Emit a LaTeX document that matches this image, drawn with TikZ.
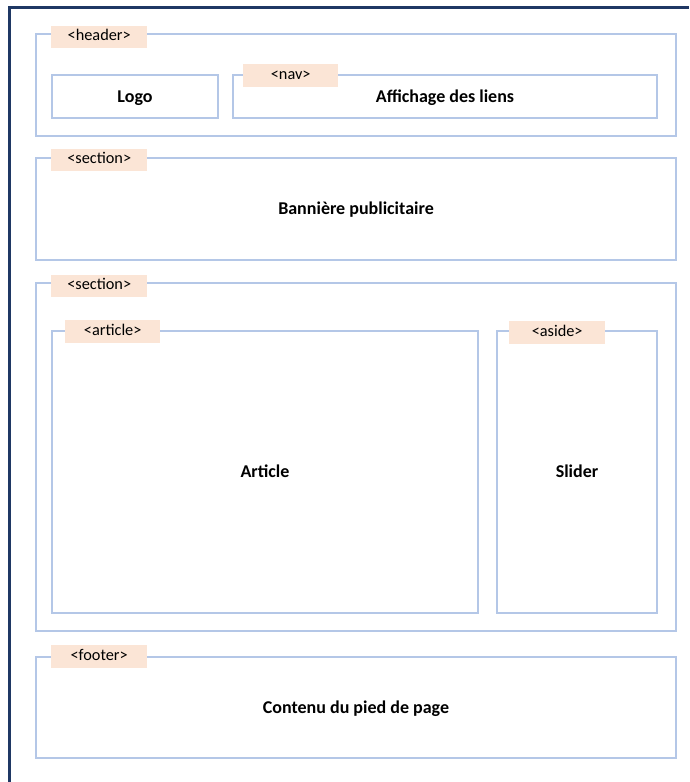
\documentclass[tikz,border=0pt]{standalone}
\usepackage{fontspec}
\setmainfont{Carlito}
\definecolor{boxblue}{HTML}{B4C7E7}
\definecolor{tagfill}{HTML}{FBE5D6}
\definecolor{navy}{HTML}{1F3864}
\begin{document}
\begin{tikzpicture}[x=1pt,y=-1pt,
  box/.style={draw=boxblue,line width=2pt,anchor=north west,inner sep=0pt,
    text height=11.5pt,text depth=0pt,
    font=\fontsize{18}{20}\selectfont\bfseries},
  tag/.style={fill=tagfill,anchor=north west,inner sep=0pt,minimum width=96pt,minimum height=22pt,
    text height=9pt,text depth=2pt,
    font=\fontsize{16.3}{18}\selectfont}
]
\useasboundingbox (0,0) rectangle (689,782);
\fill[white] (0,0) rectangle (689,782);
\draw[navy,line width=3pt] (8,7.5) -- (689,7.5);
\draw[navy,line width=3pt] (9.5,6) -- (9.5,782);
% header
\node[box,minimum width=640pt,minimum height=102pt] (header) at (35,33) {};
\node[tag] (headertag) at (51,26) {<header>};
\node[box,minimum width=166pt,minimum height=43pt] (logo) at (51,74) {Logo};
\node[box,minimum width=424pt,minimum height=43pt] (nav) at (232,74) {Affichage des liens};
\node[tag,minimum width=95pt,minimum height=23pt] (navtag) at (243,64) {<nav>};
% section 1
\node[box,minimum width=640pt,minimum height=102pt] (sec1) at (35,157) {Bannière publicitaire};
\node[tag] (sec1tag) at (51,149) {<section>};
% section 2
\node[box,minimum width=640pt,minimum height=348pt] (sec2) at (35,282) {};
\node[tag] (sec2tag) at (51,275) {<section>};
\node[box,minimum width=426pt,minimum height=282pt] (article) at (51,330) {Article};
\node[tag,minimum width=95pt,minimum height=23pt] (articletag) at (65,320) {<article>};
\node[box,minimum width=160pt,minimum height=282pt] (aside) at (496,330) {Slider};
\node[tag,minimum width=96pt,minimum height=23pt] (asidetag) at (509,321) {<aside>};
% footer
\node[box,minimum width=640pt,minimum height=101pt] (footer) at (35,656) {Contenu du pied de page};
\node[tag,minimum height=23pt] (footertag) at (51,645) {<footer>};
\end{tikzpicture}
\end{document}
